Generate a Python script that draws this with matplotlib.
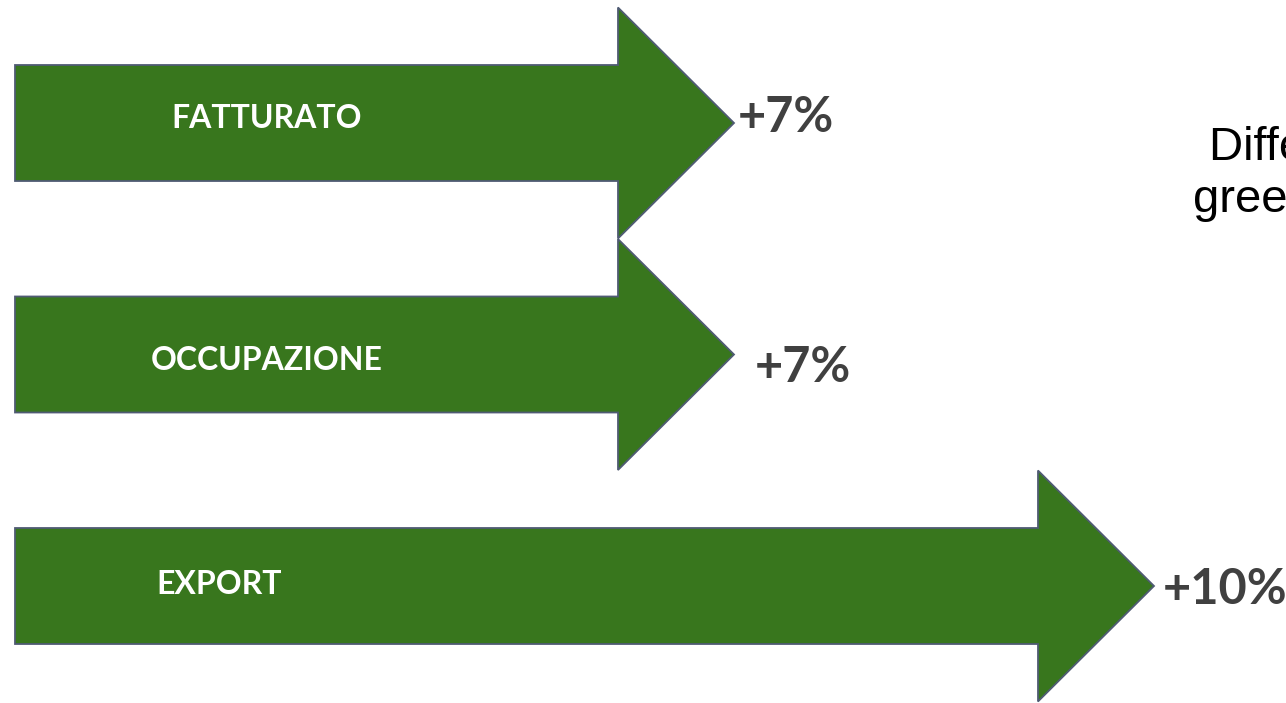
import matplotlib
matplotlib.use("Agg")
import matplotlib.pyplot as plt
from matplotlib.patches import Polygon

# ---- data ----
categories = ["FATTURATO", "OCCUPAZIONE", "EXPORT"]
growth_pct = [7, 7, 10]
value_labels = ["+7%", "+7%", "+10%"]
note_lines = ["Differenza tra imprese", "green e non green"]

# ---- style / layout ----
GREEN = "#38761d"
EDGE = "#4f5b73"
TEXT_DARK = "#404040"
W, H, DPI = 1286, 703, 100

fig = plt.figure(figsize=(W / DPI, H / DPI), dpi=DPI)
ax = fig.add_axes([0, 0, 1, 1])
# x: growth in %, mapped so that the arrow tip sits at the value
px_per_unit = 140.0
x0_px = -246.0
ax.set_xlim((0 - x0_px) / px_per_unit, (W - x0_px) / px_per_unit)
# y: category index, rows 231.5 px apart
row_px = 231.5
first_px = 123.0
ax.set_ylim((H - first_px) / row_px, (0 - first_px) / row_px)
ax.axis("off")

start_x = (15 - x0_px) / px_per_unit
head_len = 116 / px_per_unit
body_half = 58 / row_px
head_half = 115.5 / row_px

label_x_px = [267, 267, 219]
label_dy_px = [-4, 6, -1]
value_dx_px = [4, 21, 9]
value_dy_px = [-5, 13, 4]

for i, (cat, v, vl) in enumerate(zip(categories, growth_pct, value_labels)):
    y = i
    tip = v
    neck = tip - head_len
    pts = [
        (start_x, y - body_half),
        (neck, y - body_half),
        (neck, y - head_half),
        (tip, y),
        (neck, y + head_half),
        (neck, y + body_half),
        (start_x, y + body_half),
    ]
    ax.add_patch(Polygon(pts, closed=True, facecolor=GREEN, edgecolor=EDGE,
                         linewidth=1.3, joinstyle="miter", zorder=2))
    ax.text((label_x_px[i] - x0_px) / px_per_unit, y + label_dy_px[i] / row_px, cat,
            color="white", fontsize=23, fontweight="bold", family="Lato",
            ha="center", va="center", zorder=3)
    ax.text(tip + value_dx_px[i] / px_per_unit, y + value_dy_px[i] / row_px, vl,
            color=TEXT_DARK, fontsize=35, fontweight="bold", family="Lato",
            ha="left", va="center", zorder=3)

fig.text(1209 / W, 1 - 160 / H, note_lines[0], fontsize=34, family="Liberation Sans",
         color="black", ha="left", va="baseline")
fig.text(1193 / W, 1 - 212 / H, note_lines[1], fontsize=34, family="Liberation Sans",
         color="black", ha="left", va="baseline")

fig.savefig("out.png", dpi=DPI, facecolor="white")
